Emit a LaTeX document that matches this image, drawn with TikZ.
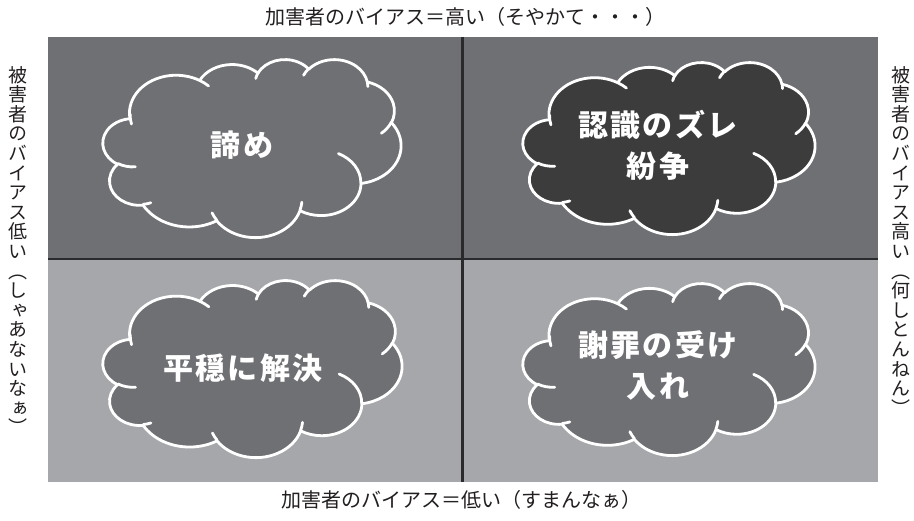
\documentclass[tikz,border=0pt]{standalone}
\usepackage{fontspec}
\newfontfamily\jp{Noto Sans CJK JP}
\newfontfamily\jpc[LetterSpace=7]{Noto Sans CJK JP}
\newfontfamily\jpv[RawFeature=+vert]{Noto Sans CJK JP}
\definecolor{topgray}{HTML}{6F7074}
\definecolor{botgray}{HTML}{A6A7AA}
\definecolor{divider}{HTML}{2A2A2C}
\definecolor{darkcloud}{HTML}{3C3C3D}
\definecolor{labelcol}{HTML}{231F20}
\tikzset{
  oo/.code n args={4}{%
    \pgfmathsetmacro\ooA{atan2((#1)*sin(#3),(#2)*cos(#3))}%
    \pgfmathsetmacro\ooB{atan2((#1)*sin((#3)+(#4)),(#2)*cos((#3)+(#4)))}%
    \pgfmathsetmacro\ooD{mod(\ooB-\ooA+720,360)}%
    \edef\ootmp{\noexpand\pgfkeysalso{start angle=\ooA, delta angle=\ooD, x radius=#1, y radius=#2}}%
    \ootmp},
  cloudline/.style={draw=white, line width=2.8pt, line join=round},
  cloudcurl/.style={draw=white, line width=2.8pt, line cap=round},
  cloudtext/.style={text=white, font=\jpc\bfseries\fontsize{30}{41}\selectfont, align=center, inner sep=0pt},
  axislabel/.style={text=labelcol, font=\jp\fontsize{20}{20}\selectfont, inner sep=0pt},
  vlabel/.style={text=labelcol, font=\jpv\fontsize{19}{19.6}\selectfont, align=center, inner sep=0pt, anchor=north},
  divline/.style={draw=divider, line width=2.5pt}
}
\newcommand\drawcloud[2]{%
  \begin{scope}[#1]
    \path[cloudline, fill=#2] (3.900,14.370)
      arc[oo={6.753}{9.190}{-190.4875}{123.7805}]
      arc[oo={5.333}{7.267}{-144.1024}{89.9452}]
      arc[oo={4.365}{5.945}{-145.8079}{99.7230}]
      arc[oo={4.857}{6.595}{-130.9861}{117.2417}]
      arc[oo={5.333}{7.273}{-78.7089}{109.0269}]
      arc[oo={6.775}{9.220}{-46.2673}{130.2690}]
      arc[oo={5.785}{7.867}{0.6250}{114.0333}]
      arc[oo={6.752}{9.215}{22.4516}{115.1726}]
      arc[oo={7.720}{10.543}{66.2426}{75.7110}]
      arc[oo={4.360}{5.918}{-274.9421}{146.7356}]
      arc[oo={4.345}{5.945}{-246.8285}{152.5189}]
      -- cycle;
    \path[cloudcurl]
      (4.693,26.177) arc[oo={4.345}{5.945}{86.7420}{26.4295}]
      (6.928,34.899) arc[oo={4.360}{5.918}{73.6105}{11.4475}]
      (16.478,39.090) arc[oo={6.752}{9.215}{137.6242}{14.0811}]
      (28.827,34.751) arc[oo={6.752}{9.215}{6.4533}{15.9984}]
      (34.129,22.954) arc[oo={5.785}{7.867}{-70.2924}{70.9174}]
      (41.798,15.354) arc[oo={5.333}{7.273}{30.3180}{27.7515}]
      (38.324,5.426) arc[oo={4.857}{6.595}{-13.7443}{14.8589}]
      (29.078,3.952) arc[oo={4.857}{6.595}{-149.1815}{18.1954}]
      (22.141,4.720) arc[oo={4.365}{5.945}{-163.4943}{17.9323}]
      (14.000,5.192) arc[oo={6.753}{9.190}{-66.7070}{12.3194}]
      (4.127,15.789) arc[oo={6.753}{9.190}{161.3440}{20.5022}];
  \end{scope}}
\begin{document}
\begin{tikzpicture}[x=1pt,y=-1pt]
  \useasboundingbox[fill=white] (0,0) rectangle (914,521);
  % quadrants
  \fill[topgray] (48,37) rectangle (878,259);
  \fill[botgray] (48,259) rectangle (878,482);
  \coordinate (vtop) at (462.5,37);
  \coordinate (vbot) at (462.5,482);
  \coordinate (hleft) at (48,259);
  \coordinate (hright) at (878,259);
  \draw[divline] (vtop) -- (vbot);
  \draw[divline] (hleft) -- (hright);
  % clouds
  \drawcloud{shift={(103,59)}, x=6.898pt, y=-4.120pt}{topgray}
  \drawcloud{shift={(523,62)}, x=6.759pt, y=-3.981pt}{darkcloud}
  \drawcloud{shift={(103,280)}, x=6.921pt, y=-4.097pt}{topgray}
  \drawcloud{shift={(523,283)}, x=6.759pt, y=-3.981pt}{topgray}
  % cloud texts
  \node[cloudtext] (tl) at (242,145) {諦め};
  \node[cloudtext] (tr) at (658,145) {認識のズレ\\紛争};
  \node[cloudtext] (bl) at (243,368.5) {平穏に解決};
  \node[cloudtext] (br) at (658,365) {謝罪の受け\\入れ};
  % axis labels
  \node[axislabel] (top) at (465,17) {加害者のバイアス＝高い（そやかて・・・）};
  \node[axislabel] (bottom) at (461,500) {加害者のバイアス＝低い（すまんなぁ）};
  \node[vlabel] (left) at (18,66) {被\\害\\者\\の\\バ\\イ\\ア\\ス\\低\\い\\（\\し\\ゃ\\あ\\な\\い\\な\\ぁ\\）};
  \node[vlabel] (right) at (901,66) {被\\害\\者\\の\\バ\\イ\\ア\\ス\\高\\い\\（\\何\\し\\と\\ん\\ね\\ん\\）};
\end{tikzpicture}
\end{document}
